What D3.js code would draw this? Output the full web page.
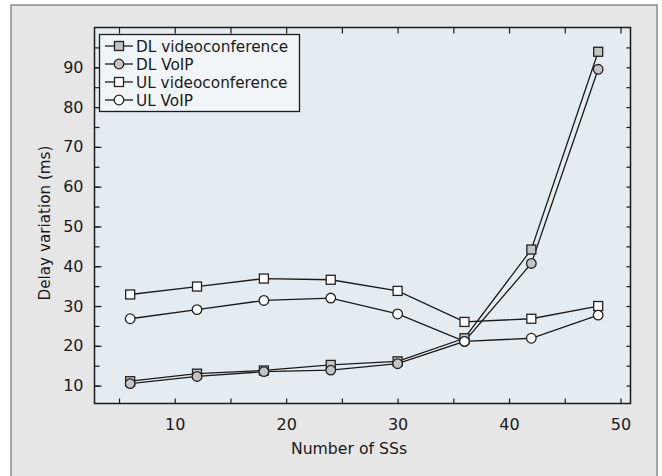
<!DOCTYPE html>
<html>
<head>
<meta charset="utf-8" />
<title>Delay variation vs number of SSs</title>
<script src="https://cdn.jsdelivr.net/npm/d3@7"></script>
<style>
	body { margin: 0; background: #fff; }
	text { font-family: "DejaVu Sans", sans-serif; fill: #1a1a1a; }
</style>
</head>
<body>
<script>
// numero de SSs
var numSS = [6, 12, 18, 24, 30, 36, 42, 48];
// series (ms)
var dlVideo = [11.1, 13.0, 13.8, 15.2, 16.1, 21.9, 44.2, 93.9];
var dlVoip  = [10.5, 12.3, 13.5, 13.9, 15.5, 21.1, 40.7, 89.5];
var ulVideo = [32.9, 34.9, 36.9, 36.6, 33.8, 26.0, 26.8, 30.0];
var ulVoip  = [26.8, 29.1, 31.4, 32.0, 28.0, 21.1, 21.9, 27.7];
var xTicks = [10, 20, 30, 40, 50];
var yTicks = [10, 20, 30, 40, 50, 60, 70, 80, 90];

var series = [
	{ name: "DL videoconference", values: dlVideo, shape: "square", fill: "#c4c4c4" },
	{ name: "DL VoIP",            values: dlVoip,  shape: "circle", fill: "#c4c4c4" },
	{ name: "UL videoconference", values: ulVideo, shape: "square", fill: "#ffffff" },
	{ name: "UL VoIP",            values: ulVoip,  shape: "circle", fill: "#ffffff" }
];

var W = 662, H = 476;
var svg = d3.select("body").append("svg").attr("width", W).attr("height", H);

// marco exterior
svg.append("rect").attr("x", 11).attr("y", 5).attr("width", 646).attr("height", H)
	.attr("fill", "#e6e6e6").attr("stroke", "#8a8a8a").attr("stroke-width", 1.5);

var margin = { left: 94.5, top: 27.5, right: 630.5, bottom: 403.5 };
var x = d3.scaleLinear().domain([2.8, 50.9]).range([margin.left, margin.right]);
var y = d3.scaleLinear().domain([5.5, 100]).range([margin.bottom, margin.top]);

// fondo del grafico
svg.append("rect").attr("x", margin.left).attr("y", margin.top)
	.attr("width", margin.right - margin.left).attr("height", margin.bottom - margin.top)
	.attr("fill", "#e4ecf2");

var minorX = d3.range(5, 51, 5), minorY = d3.range(10, 96, 5);

// ejes (ticks hacia dentro)
function ticks(g, axis, vals, len) {
	g.call(axis.tickValues(vals).tickSize(len).tickFormat(""));
	g.select(".domain").remove();
	g.selectAll("line").attr("stroke", "#1a1a1a").attr("stroke-width", 1.2);
}
ticks(svg.append("g").attr("transform", "translate(0," + margin.bottom + ")"), d3.axisTop(x), minorX, 5);
ticks(svg.append("g").attr("transform", "translate(0," + margin.top + ")"), d3.axisBottom(x), minorX, 6);
ticks(svg.append("g").attr("transform", "translate(" + margin.left + ",0)"), d3.axisRight(y), minorY, 5);
ticks(svg.append("g").attr("transform", "translate(" + margin.left + ",0)"), d3.axisRight(y), yTicks, 7);
ticks(svg.append("g").attr("transform", "translate(" + margin.right + ",0)"), d3.axisLeft(y), minorY, 4);

// etiquetas
var xl = svg.append("g").attr("transform", "translate(0," + margin.bottom + ")")
	.call(d3.axisBottom(x).tickValues(xTicks).tickSize(0).tickPadding(15));
xl.select(".domain").remove();
xl.selectAll("text").attr("fill", "#1a1a1a").style("font-size", "16px").style("font-family", "DejaVu Sans");

var yl = svg.append("g").attr("transform", "translate(" + margin.left + ",0)")
	.call(d3.axisLeft(y).tickValues(yTicks).tickSize(0).tickPadding(11));
yl.select(".domain").remove();
yl.selectAll("text").attr("fill", "#1a1a1a").style("font-size", "16px").style("font-family", "DejaVu Sans");

svg.append("rect").attr("x", margin.left).attr("y", margin.top)
	.attr("width", margin.right - margin.left).attr("height", margin.bottom - margin.top)
	.attr("fill", "none").attr("stroke", "#1a1a1a").attr("stroke-width", 1.5);

svg.append("text").attr("x", 349).attr("y", 454).attr("text-anchor", "middle")
	.style("font-size", "15.7px").text("Number of SSs");
svg.append("text").attr("transform", "translate(50,223) rotate(-90)").attr("text-anchor", "middle")
	.style("font-size", "15.2px").text("Delay variation (ms)");

// lineas y marcadores
var line = d3.line().x(function (d, i) { return x(numSS[i]); }).y(function (d) { return y(d); });

function marker(g, s, cx, cy) {
	if (s.shape == "square") {
		g.append("rect").attr("x", cx - 4.5).attr("y", cy - 4.5).attr("width", 9).attr("height", 9)
			.attr("fill", s.fill).attr("stroke", "#222").attr("stroke-width", 1.3);
	} else {
		g.append("circle").attr("cx", cx).attr("cy", cy).attr("r", 4.8)
			.attr("fill", s.fill).attr("stroke", "#222").attr("stroke-width", 1.3);
	}
}

series.forEach(function (s) {
	svg.append("path").datum(s.values).attr("d", line)
		.attr("fill", "none").attr("stroke", "#1a1a1a").attr("stroke-width", 1.3);
});
series.forEach(function (s) {
	var g = svg.append("g");
	s.values.forEach(function (v, i) { marker(g, s, x(numSS[i]), y(v)); });
});

// leyenda
var lg = svg.append("g");
lg.append("rect").attr("x", 99.5).attr("y", 34.5).attr("width", 200).attr("height", 77)
	.attr("fill", "#f1f5f8").attr("stroke", "#1a1a1a").attr("stroke-width", 1.3);
series.forEach(function (s, i) {
	var cy = 46 + i * 18;
	lg.append("line").attr("x1", 105).attr("x2", 133).attr("y1", cy).attr("y2", cy)
		.attr("stroke", "#1a1a1a").attr("stroke-width", 1.3);
	marker(lg, s, 119, cy);
	lg.append("text").attr("x", 136).attr("y", cy).attr("dy", "0.36em")
		.style("font-size", "15.3px").text(s.name);
});
</script>
</body>
</html>
